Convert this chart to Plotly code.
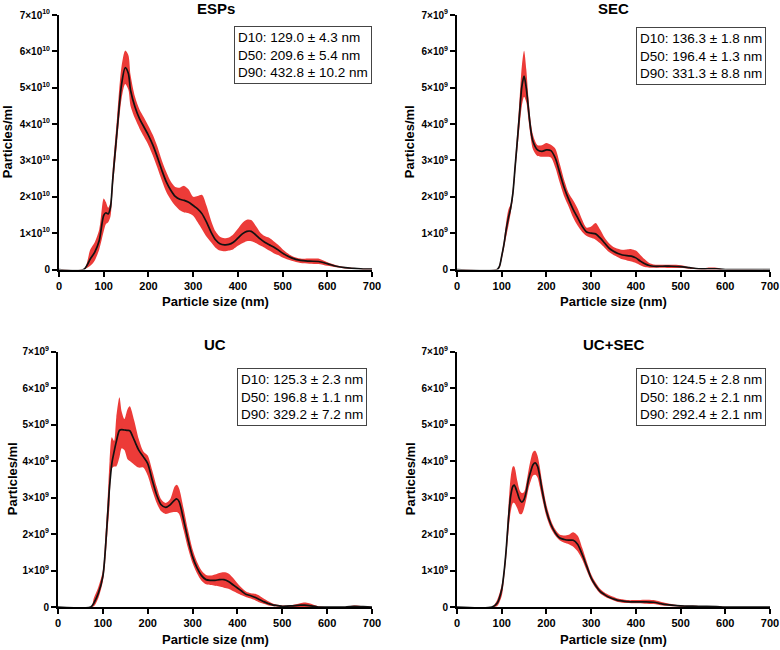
import plotly.graph_objects as go

FONT = "Liberation Sans, Arial, Helvetica, sans-serif"
BAND = "#EC3B38"

# ---------------- data (y in units of 10^exp particles/ml) ----------------
ESP_X = [0, 55, 70, 80, 90, 100, 105, 110, 115, 120, 130, 140, 148, 155, 160, 170, 180, 190, 200, 210,
         220, 230, 240, 250, 260, 270, 280, 290, 300, 310, 320, 330, 340, 350, 360, 370, 380, 390, 400, 410,
         420, 430, 440, 450, 460, 470, 480, 490, 500, 520, 540, 560, 580, 600, 620, 640, 660, 680, 700]
ESP_MEAN = [0, 0, 0.29, 0.48, 0.8, 1.49, 1.56, 1.53, 1.7, 2.45, 3.83, 5.1, 5.55, 5.4, 4.93, 4.47, 4.15, 3.92, 3.69, 3.42,
            3.09, 2.73, 2.41, 2.18, 2.01, 1.93, 1.9, 1.85, 1.76, 1.67, 1.53, 1.3, 1.03, 0.82, 0.71, 0.68, 0.69, 0.75, 0.86, 0.98,
            1.05, 1.05, 0.95, 0.84, 0.75, 0.68, 0.62, 0.54, 0.45, 0.32, 0.25, 0.23, 0.22, 0.16, 0.09, 0.05, 0.03, 0.01, 0.01]
ESP_UP = [0, 0, 0.55, 0.75, 1.1, 1.95, 1.85, 1.7, 1.85, 2.7, 4.2, 5.6, 6.02, 5.9, 5.35, 4.75, 4.4, 4.18, 3.95, 3.7,
          3.38, 3.0, 2.68, 2.42, 2.27, 2.25, 2.3, 2.2, 2.0, 2.02, 2.05, 1.75, 1.35, 1.05, 0.9, 0.86, 0.88, 0.97, 1.12, 1.28,
          1.37, 1.36, 1.2, 1.02, 0.92, 0.87, 0.78, 0.68, 0.56, 0.38, 0.3, 0.3, 0.3, 0.2, 0.12, 0.07, 0.04, 0.02, 0.02]
ESP_LO = [0, 0, 0.1, 0.25, 0.55, 1.05, 1.25, 1.3, 1.45, 2.2, 3.5, 4.7, 5.1, 4.95, 4.5, 4.15, 3.88, 3.65, 3.42, 3.13,
          2.8, 2.45, 2.13, 1.92, 1.75, 1.63, 1.57, 1.55, 1.48, 1.3, 1.1, 0.9, 0.75, 0.6, 0.52, 0.5, 0.52, 0.56, 0.65, 0.72,
          0.78, 0.78, 0.73, 0.66, 0.6, 0.52, 0.45, 0.4, 0.33, 0.24, 0.18, 0.16, 0.15, 0.1, 0.06, 0.03, 0.02, 0, 0]

SEC_X = [0, 90, 95, 100, 105, 110, 115, 120, 125, 130, 135, 140, 145, 150, 155, 160, 165, 170, 180, 190,
         200, 210, 220, 230, 240, 250, 260, 270, 280, 290, 300, 310, 320, 330, 340, 350, 360, 370, 380, 390,
         400, 410, 420, 430, 440, 460, 480, 500, 520, 540, 560, 580, 600, 700]
SEC_MEAN = [0, 0, 0.09, 0.37, 0.69, 1.1, 1.42, 1.69, 2.1, 2.83, 3.56, 4.3, 5.03, 5.32, 4.98, 4.39, 3.84, 3.52, 3.29, 3.25,
            3.29, 3.27, 3.06, 2.65, 2.24, 1.92, 1.65, 1.42, 1.19, 1.03, 1.0, 0.98, 0.87, 0.73, 0.59, 0.5, 0.44, 0.4, 0.38, 0.37,
            0.32, 0.23, 0.16, 0.11, 0.09, 0.09, 0.09, 0.08, 0.05, 0.02, 0.02, 0.02, 0, 0]
SEC_UP = [0, 0, 0.14, 0.45, 0.8, 1.3, 1.65, 1.8, 2.25, 3.0, 3.8, 4.7, 5.6, 6.02, 5.5, 4.7, 4.05, 3.7, 3.42, 3.42,
          3.48, 3.43, 3.32, 2.9, 2.45, 2.1, 1.9, 1.67, 1.37, 1.15, 1.18, 1.28, 1.1, 0.88, 0.72, 0.62, 0.57, 0.54, 0.55, 0.56,
          0.52, 0.4, 0.28, 0.18, 0.14, 0.13, 0.13, 0.12, 0.07, 0.03, 0.05, 0.05, 0, 0]
SEC_LO = [0, 0, 0.04, 0.28, 0.58, 0.9, 1.2, 1.55, 1.95, 2.65, 3.3, 3.95, 4.5, 4.75, 4.6, 4.1, 3.62, 3.3, 3.12, 3.1,
          3.1, 3.08, 2.8, 2.38, 2.0, 1.72, 1.42, 1.2, 1.03, 0.92, 0.87, 0.82, 0.72, 0.6, 0.48, 0.4, 0.34, 0.28, 0.25, 0.22,
          0.18, 0.12, 0.07, 0.05, 0.05, 0.05, 0.04, 0.04, 0.02, 0, 0, 0, 0, 0]

UC_X = [0, 73, 80, 90, 100, 105, 110, 115, 120, 125, 130, 137, 142, 148, 155, 160, 170, 180, 190, 200,
        210, 220, 230, 240, 250, 260, 265, 270, 280, 290, 300, 310, 320, 330, 340, 350, 360, 370, 380, 390,
        400, 410, 420, 430, 440, 450, 460, 470, 480, 490, 500, 520, 540, 550, 560, 580, 600, 640, 660, 680, 700]
UC_MEAN = [0, 0, 0.11, 0.38, 0.84, 1.48, 2.39, 3.3, 3.93, 4.25, 4.53, 4.84, 4.86, 4.85, 4.84, 4.83, 4.57, 4.3, 4.12, 3.93,
           3.48, 3.07, 2.8, 2.73, 2.8, 2.93, 2.96, 2.89, 2.39, 1.84, 1.38, 1.07, 0.86, 0.75, 0.73, 0.73, 0.75, 0.75, 0.7, 0.61,
           0.52, 0.43, 0.34, 0.31, 0.26, 0.2, 0.14, 0.09, 0.05, 0.04, 0.02, 0.03, 0.05, 0.05, 0.04, 0, 0, 0, 0.02, 0.01, 0]
UC_UP = [0, 0, 0.25, 0.55, 1.0, 1.8, 2.8, 4.0, 4.65, 4.55, 5.2, 5.75, 5.35, 5.15, 5.42, 5.5, 5.1, 4.6, 4.27, 4.15,
         3.75, 3.3, 2.95, 2.85, 2.95, 3.3, 3.35, 3.25, 2.7, 2.1, 1.58, 1.23, 1.0, 0.88, 0.86, 0.89, 0.93, 0.95, 0.92, 0.8,
         0.65, 0.52, 0.42, 0.38, 0.36, 0.3, 0.22, 0.15, 0.09, 0.06, 0.04, 0.05, 0.1, 0.12, 0.1, 0.02, 0, 0, 0.04, 0.02, 0]
UC_LO = [0, 0, 0.02, 0.25, 0.7, 1.2, 2.0, 2.8, 3.8, 3.85, 3.85, 4.1, 4.35, 4.3, 4.05, 4.0, 3.9, 3.82, 3.82, 3.6,
         3.2, 2.85, 2.62, 2.55, 2.58, 2.6, 2.6, 2.55, 2.1, 1.6, 1.2, 0.92, 0.72, 0.62, 0.6, 0.58, 0.56, 0.53, 0.5, 0.44,
         0.38, 0.32, 0.27, 0.23, 0.18, 0.12, 0.08, 0.04, 0.02, 0.01, 0, 0, 0, 0, 0, 0, 0, 0, 0, 0, 0]

UCS_X = [0, 78, 90, 100, 105, 110, 115, 120, 125, 128, 135, 140, 145, 150, 155, 160, 165, 170, 175, 180,
         185, 190, 200, 210, 220, 230, 240, 250, 260, 270, 280, 290, 300, 310, 320, 330, 340, 350, 360, 380,
         400, 420, 440, 460, 480, 500, 540, 580, 600, 700]
UCS_MEAN = [0, 0, 0.11, 0.48, 0.93, 1.57, 2.4, 3.04, 3.31, 3.34, 3.13, 2.95, 2.87, 2.95, 3.17, 3.5, 3.72, 3.9, 3.95, 3.86,
            3.59, 3.22, 2.63, 2.26, 2.03, 1.89, 1.85, 1.83, 1.83, 1.71, 1.44, 1.12, 0.8, 0.59, 0.43, 0.34, 0.27, 0.22, 0.18, 0.15,
            0.14, 0.14, 0.13, 0.08, 0.05, 0.03, 0.02, 0.01, 0, 0]
UCS_UP = [0, 0, 0.2, 0.6, 1.05, 1.75, 2.75, 3.55, 3.85, 3.85, 3.45, 3.2, 3.12, 3.15, 3.4, 3.75, 4.05, 4.25, 4.28, 4.15,
          3.85, 3.45, 2.8, 2.38, 2.12, 1.98, 1.96, 1.98, 2.05, 1.95, 1.62, 1.25, 0.9, 0.67, 0.5, 0.4, 0.33, 0.28, 0.23, 0.19,
          0.19, 0.2, 0.19, 0.13, 0.08, 0.04, 0.03, 0.02, 0, 0]
UCS_LO = [0, 0, 0.03, 0.3, 0.75, 1.35, 2.05, 2.6, 2.85, 2.85, 2.7, 2.55, 2.55, 2.7, 2.95, 3.25, 3.45, 3.6, 3.62, 3.55,
          3.3, 3.0, 2.48, 2.15, 1.95, 1.82, 1.76, 1.72, 1.65, 1.52, 1.3, 1.0, 0.72, 0.52, 0.37, 0.29, 0.23, 0.18, 0.14, 0.11,
          0.1, 0.09, 0.08, 0.04, 0.02, 0.01, 0, 0, 0, 0]

TITLES = ["ESPs", "SEC", "UC", "UC+SEC"]
EXPONENTS = [10, 9, 9, 9]
STATS = [
    ["D10: 129.0 ± 4.3 nm", "D50: 209.6 ± 5.4 nm", "D90: 432.8 ± 10.2 nm"],
    ["D10: 136.3 ± 1.8 nm", "D50: 196.4 ± 1.3 nm", "D90: 331.3 ± 8.8 nm"],
    ["D10: 125.3 ± 2.3 nm", "D50: 196.8 ± 1.1 nm", "D90: 329.2 ± 7.2 nm"],
    ["D10: 124.5 ± 2.8 nm", "D50: 186.2 ± 2.1 nm", "D90: 292.4 ± 2.1 nm"],
]
X_TICKS = [0, 100, 200, 300, 400, 500, 600, 700]
Y_TICKS = [0, 1, 2, 3, 4, 5, 6, 7]
X_TITLE = "Particle size (nm)"
Y_TITLE = "Particles/ml"

SERIES = [
    (ESP_X, ESP_MEAN, ESP_UP, ESP_LO),
    (SEC_X, SEC_MEAN, SEC_UP, SEC_LO),
    (UC_X, UC_MEAN, UC_UP, UC_LO),
    (UCS_X, UCS_MEAN, UCS_UP, UCS_LO),
]

# ---------------- layout geometry (pixels in a 780x650 page) ----------------
W, H = 780, 650
PX = [(59, 372), (457, 770), (58, 372), (457, 770)]
PY = [(15, 269.5), (15, 269.5), (351.5, 607), (351.5, 607)]
YTITLE_X = [7, 409, 12, 410]
BOX_RIGHT = [372, 766, 367, 766]
BOX_TOP = [26, 27, 368, 368]

fig = go.Figure()
layout = dict(
    width=W, height=H, margin=dict(l=0, r=0, t=0, b=0, autoexpand=False),
    paper_bgcolor="white", plot_bgcolor="white", showlegend=False,
    font=dict(family=FONT, color="black"),
)
annotations = []

for i, (xs, mean, up, lo) in enumerate(SERIES):
    n = i + 1
    xa = "x" if n == 1 else f"x{n}"
    ya = "y" if n == 1 else f"y{n}"
    scale = 10 ** EXPONENTS[i]
    fig.add_trace(go.Scatter(x=xs, y=[v * scale for v in up], xaxis=xa, yaxis=ya, mode="lines",
                             line=dict(width=0, shape="spline", smoothing=0.8, color=BAND), hoverinfo="skip"))
    fig.add_trace(go.Scatter(x=xs, y=[v * scale for v in lo], xaxis=xa, yaxis=ya, mode="lines",
                             line=dict(width=0, shape="spline", smoothing=0.8, color=BAND),
                             fill="tonexty", fillcolor=BAND, hoverinfo="skip"))
    fig.add_trace(go.Scatter(x=xs, y=[v * scale for v in mean], xaxis=xa, yaxis=ya, mode="lines",
                             line=dict(width=1.7, shape="spline", smoothing=0.8, color="#111111")))

    x0, x1 = PX[i]
    y0, y1 = PY[i]
    xdom = [x0 / W, x1 / W]
    ydom = [1 - y1 / H, 1 - y0 / H]
    axcommon = dict(showgrid=False, zeroline=False, showline=True, linecolor="black", linewidth=2,
                    ticks="outside", ticklen=5, tickwidth=2, tickcolor="black", automargin=False,
                    ticklabeloverflow="allow")
    layout["xaxis" if n == 1 else f"xaxis{n}"] = dict(
        domain=xdom, anchor=ya, range=[0, 700], tickvals=X_TICKS,
        ticktext=[str(t) for t in X_TICKS],
        tickfont=dict(family=FONT, size=11, color="black", weight="bold"), **axcommon)
    ytext = ["0"] + [f"{t}×10<sup>{EXPONENTS[i]}</sup>" for t in Y_TICKS[1:]]
    layout["yaxis" if n == 1 else f"yaxis{n}"] = dict(
        domain=ydom, anchor=xa, range=[0, 7 * scale], tickvals=[t * scale for t in Y_TICKS],
        ticktext=ytext, tickfont=dict(family=FONT, size=10, color="black", weight="bold"), **axcommon)

    cx = (x0 + x1) / 2 / W
    # panel title
    annotations.append(dict(text=TITLES[i], xref="paper", yref="paper", x=cx, y=1 - (y0 - 7) / H,
                            xanchor="center", yanchor="middle", showarrow=False,
                            font=dict(family=FONT, size=15, color="black", weight="bold")))
    # x-axis title
    annotations.append(dict(text=X_TITLE, xref="paper", yref="paper", x=cx, y=1 - (y1 + 32) / H,
                            xanchor="center", yanchor="middle", showarrow=False,
                            font=dict(family=FONT, size=13, color="black", weight="bold")))
    # y-axis title
    annotations.append(dict(text=Y_TITLE, xref="paper", yref="paper", x=YTITLE_X[i] / W,
                            y=1 - (y0 + y1) / 2 / H, xanchor="center", yanchor="middle",
                            textangle=-90, showarrow=False,
                            font=dict(family=FONT, size=13, color="black", weight="bold")))
    # stats box
    annotations.append(dict(text="<br>".join(STATS[i]), xref="paper", yref="paper",
                            x=BOX_RIGHT[i] / W, y=1 - BOX_TOP[i] / H, xanchor="right", yanchor="top",
                            align="left", showarrow=False, bordercolor="#444444", borderwidth=1,
                            borderpad=3, bgcolor="white",
                            font=dict(family=FONT, size=13.5, color="black")))

layout["annotations"] = annotations
fig.update_layout(**layout)
fig.write_html("out.html", config={"displayModeBar": False},
               post_script="document.body.style.margin='0';document.body.style.padding='0';"
                           "document.documentElement.style.overflow='hidden';")
